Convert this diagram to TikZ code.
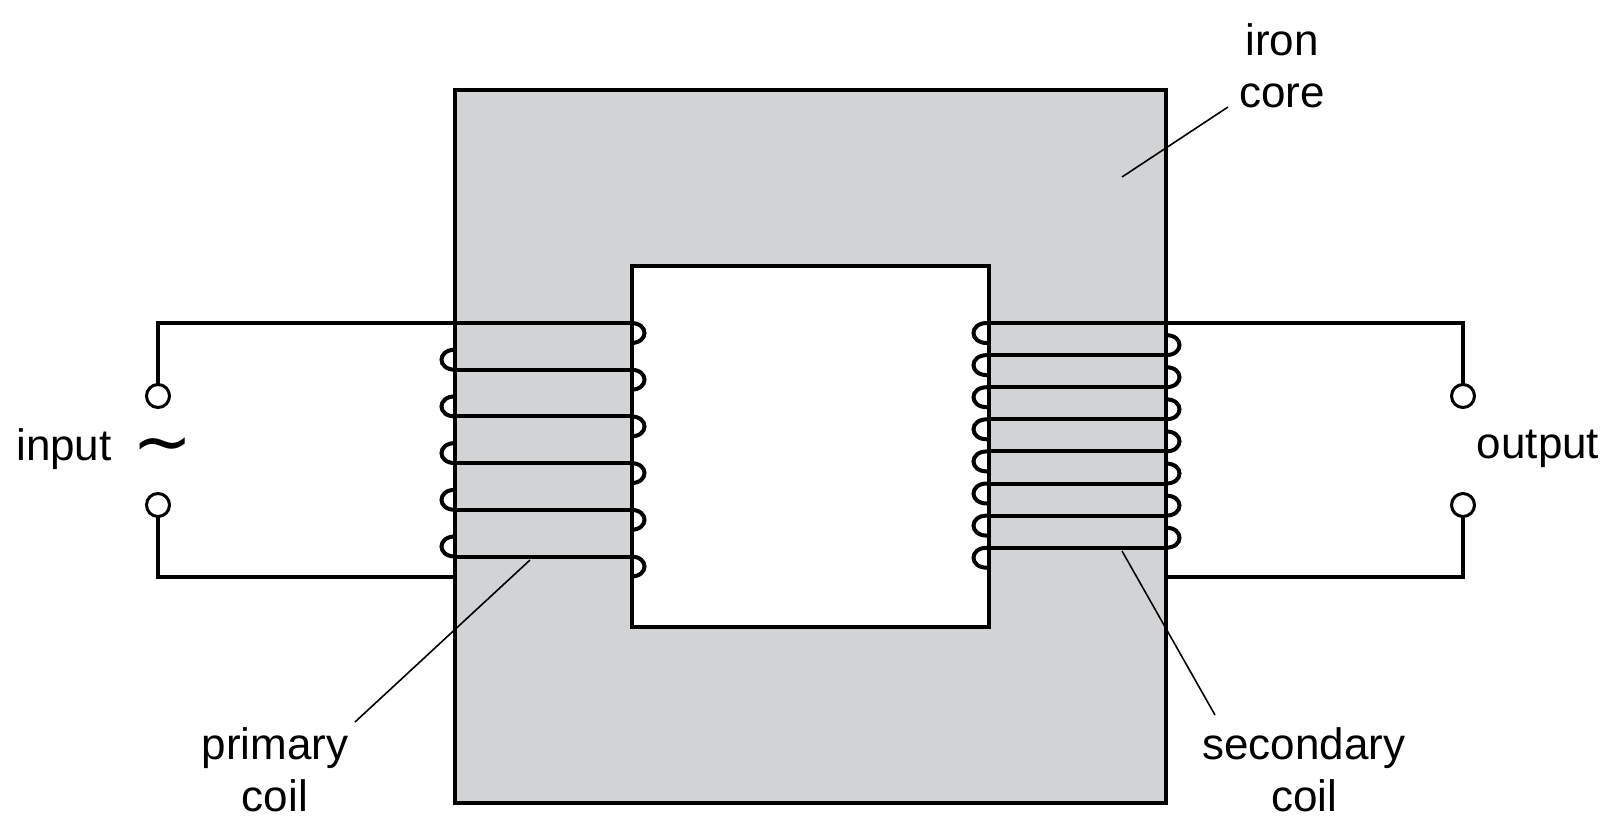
\documentclass[tikz,border=0pt]{standalone}
\usepackage{fontspec}
\setmainfont{Liberation Sans}
\newfontfamily\djv{DejaVu Sans}
\begin{document}
\begin{tikzpicture}[x=1pt,y=-1pt,
  wire/.style={line width=4pt},
  lead/.style={line width=1.6pt},
  term/.style={line width=3pt},
  lbl/.style={font=\fontsize{44}{52}\selectfont, align=center, inner sep=0pt}]
\useasboundingbox (0,0) rectangle (1616,828);
\definecolor{core}{HTML}{D1D3D4}
% core
\draw[fill=core, line width=3.8pt] (455,90) rectangle (1166,803);
\draw[fill=white, line width=3.8pt] (632,266) rectangle (989,627);
% primary
\draw[wire] (158,384) -- (158,323) -- (631,323);
\foreach \i in {1,...,5} {
  \pgfmathsetmacro{\y}{323+46.7*\i}
  \draw[wire] (455,\y) -- (631,\y);
  \draw[wire] (455,\y-20) .. controls (437,\y-20) and (437,\y) .. (455,\y);
}
\foreach \i in {0,...,5} {
  \pgfmathsetmacro{\y}{323+46.7*\i}
  \draw[wire] (631,\y) .. controls (649,\y) and (649,\y+20) .. (631,\y+20);
}
\draw[wire] (158,517) -- (158,577) -- (455,577);
\draw[term] (158,396) circle (11.5);
\draw[term] (158,505) circle (11.5);
% secondary
\draw[wire] (1463,384) -- (1463,323) -- (987,323);
\foreach \i in {1,...,7} {
  \pgfmathsetmacro{\y}{323+32.1*\i}
  \draw[wire] (987,\y) -- (1166,\y);
  \draw[wire] (1166,\y-20) .. controls (1184,\y-20) and (1184,\y) .. (1166,\y);
}
\foreach \i in {0,...,7} {
  \pgfmathsetmacro{\y}{323+32.1*\i}
  \draw[wire] (987,\y) .. controls (969,\y) and (969,\y+20) .. (987,\y+20);
}
\draw[wire] (1463,517) -- (1463,577) -- (1166,577);
\draw[term] (1463,396) circle (11.5);
\draw[term] (1463,505) circle (11.5);
% labels
\node[lbl] (inp) at (64,449) {input};
\node[lbl] (tl) at (163,452) {\djv\fontsize{72}{72}\selectfont ∼};
\node[lbl] (outp) at (1538,449) {output};
\node[lbl] (iron) at (1282,66) {iron\\core};
\node[lbl] (prim) at (275,770) {primary\\coil};
\node[lbl] (sec) at (1304,770) {secondary\\coil};
\coordinate (ia) at (1228,107); \coordinate (ib) at (1122,177);
\coordinate (pa) at (355,722); \coordinate (pb) at (530,560);
\coordinate (sa) at (1215,715); \coordinate (sb) at (1122,551);
\draw[lead] (ia) -- (ib);
\draw[lead] (pa) -- (pb);
\draw[lead] (sa) -- (sb);
\end{tikzpicture}
\end{document}
